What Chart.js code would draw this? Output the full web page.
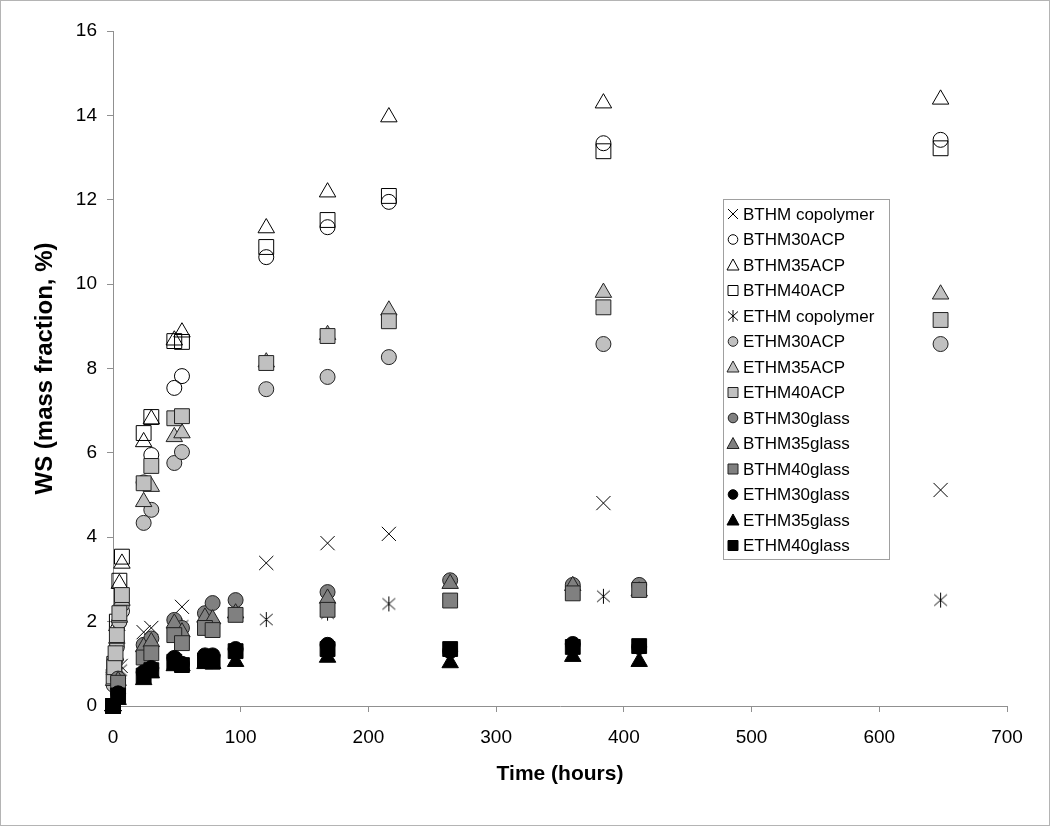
<!DOCTYPE html>
<html>
<head>
<meta charset="utf-8">
<script src="https://cdn.jsdelivr.net/npm/chart.js@4.4.0/dist/chart.umd.min.js"></script>
<style>
html, body { margin: 0; padding: 0; background: #fff; }
#wrap { width: 1050px; height: 826px; box-sizing: border-box; border: 1px solid #b4b4b4; }
canvas { display: block; }
</style>
</head>
<body>
<div id="wrap"><canvas id="chart1" width="1048" height="824"></canvas></div>
<script>
// temps (heures) par groupe de mesures
var hoursBthmCopo = [0, 6, 24, 30, 54, 120, 168, 216, 384, 648];
var hoursEthmCopo = [0, 6, 54, 120, 168, 216, 384, 648];
var hoursBthmAcp = [0, 1, 3, 5, 7, 24, 30, 48, 54, 120, 168, 216, 384, 648];
var hoursEthmAcp = [0, 0.5, 1, 2, 3, 5, 7, 24, 30, 48, 54, 120, 168, 216, 384, 648];
var hoursGlass = [0, 4, 24, 30, 48, 54, 72, 78, 96, 168, 264, 360, 412];

// WS (mass fraction, %)
var bthmCopolymer = [0, 0.95, 1.75, 1.85, 2.35, 3.39, 3.86, 4.08, 4.81, 5.12];
var ethmCopolymer = [0, 0.85, 1.9, 2.05, 2.2, 2.42, 2.6, 2.51];
var bthm30acp = [0, 0.7, 1.4, 2.0, 2.25, 5.3, 5.95, 7.54, 7.82, 10.64, 11.35, 11.95, 13.34, 13.42];
var bthm35acp = [0, 0.9, 1.9, 2.9, 3.38, 6.26, 6.8, 8.67, 8.86, 11.33, 12.18, 13.96, 14.29, 14.38];
var bthm40acp = [0, 1.0, 2.0, 2.97, 3.54, 6.47, 6.85, 8.65, 8.63, 10.88, 11.52, 12.09, 13.15, 13.22];
var ethm30acp = [0, 0.5, 0.8, 1.1, 1.5, 2.0, 2.4, 4.34, 4.65, 5.76, 6.02, 7.51, 7.8, 8.27, 8.58, 8.58];
var ethm35acp = [0, 0.6, 0.85, 1.2, 1.6, 2.1, 2.5, 4.84, 5.2, 6.38, 6.47, 8.15, 8.8, 9.38, 9.8, 9.76];
var ethm40acp = [0, 0.7, 0.92, 1.25, 1.68, 2.2, 2.63, 5.28, 5.69, 6.82, 6.87, 8.13, 8.77, 9.12, 9.45, 9.15];
var bthm30glass = [0, 0.65, 1.45, 1.6, 2.04, 1.85, 2.2, 2.44, 2.51, 2.7, 2.98, 2.87, 2.87];
var bthm35glass = [0, 0.6, 1.4, 1.52, 1.96, 1.75, 2.1, 2.06, 2.2, 2.55, 2.9, 2.85, 2.72];
var bthm40glass = [0, 0.55, 1.15, 1.25, 1.68, 1.49, 1.85, 1.8, 2.16, 2.28, 2.5, 2.67, 2.75];
var ethm30glass = [0, 0.3, 0.8, 0.9, 1.14, 1.0, 1.2, 1.2, 1.35, 1.45, 1.3, 1.47, 1.4];
var ethm35glass = [0, 0.15, 0.62, 0.78, 0.95, 0.95, 1.0, 1.0, 1.05, 1.15, 1.02, 1.17, 1.05];
var ethm40glass = [0, 0.25, 0.72, 0.85, 1.05, 0.97, 1.08, 1.05, 1.3, 1.35, 1.35, 1.4, 1.42];

var fontFam = "'Liberation Sans', Arial, sans-serif";

// etoile facon Excel (X + trait vertical)
function makeAsterisk(size){
    var c = document.createElement('canvas');
    c.width = size; c.height = size;
    var g = c.getContext('2d');
    var m = size / 2, r = size / 2 - 1;
    g.strokeStyle = '#000';
    g.lineWidth = 1;
    g.beginPath();
    g.moveTo(m, m - r); g.lineTo(m, m + r);
    g.moveTo(m - r * 0.85, m - r * 0.75); g.lineTo(m + r * 0.85, m + r * 0.75);
    g.moveTo(m - r * 0.85, m + r * 0.75); g.lineTo(m + r * 0.85, m - r * 0.75);
    g.stroke();
    return c;
}
var asterisk = makeAsterisk(17);

function pts(xs, ys){
    return xs.map(function(x, i){ return {x: x, y: ys[i]}; });
}

var series = [
    {label: 'BTHM copolymer', x: hoursBthmCopo, y: bthmCopolymer, style: 'crossRot', fill: '#000', line: '#000', r: 10},
    {label: 'BTHM30ACP', x: hoursBthmAcp, y: bthm30acp, style: 'circle', fill: 'rgba(0,0,0,0)', line: '#000', r: 7.5},
    {label: 'BTHM35ACP', x: hoursBthmAcp, y: bthm35acp, style: 'triangle', fill: 'rgba(0,0,0,0)', line: '#000', r: 9.5},
    {label: 'BTHM40ACP', x: hoursBthmAcp, y: bthm40acp, style: 'rect', fill: 'rgba(0,0,0,0)', line: '#000', r: 10.5},
    {label: 'ETHM copolymer', x: hoursEthmCopo, y: ethmCopolymer, style: asterisk, fill: '#000', line: '#000', r: 8},
    {label: 'ETHM30ACP', x: hoursEthmAcp, y: ethm30acp, style: 'circle', fill: '#c0c0c0', line: '#222', r: 7.5},
    {label: 'ETHM35ACP', x: hoursEthmAcp, y: ethm35acp, style: 'triangle', fill: '#c0c0c0', line: '#222', r: 9.5},
    {label: 'ETHM40ACP', x: hoursEthmAcp, y: ethm40acp, style: 'rect', fill: '#c0c0c0', line: '#222', r: 10.5},
    {label: 'BTHM30glass', x: hoursGlass, y: bthm30glass, style: 'circle', fill: '#808080', line: '#222', r: 7.5},
    {label: 'BTHM35glass', x: hoursGlass, y: bthm35glass, style: 'triangle', fill: '#808080', line: '#222', r: 9.5},
    {label: 'BTHM40glass', x: hoursGlass, y: bthm40glass, style: 'rect', fill: '#808080', line: '#222', r: 10.5},
    {label: 'ETHM30glass', x: hoursGlass, y: ethm30glass, style: 'circle', fill: '#000', line: '#000', r: 7.5},
    {label: 'ETHM35glass', x: hoursGlass, y: ethm35glass, style: 'triangle', fill: '#000', line: '#000', r: 9.5},
    {label: 'ETHM40glass', x: hoursGlass, y: ethm40glass, style: 'rect', fill: '#000', line: '#000', r: 10.5}
];

var datasets = series.map(function(s, i){
    return {
        label: s.label,
        data: pts(s.x, s.y),
        pointStyle: s.style,
        pointRadius: s.r,
        pointHoverRadius: s.r,
        pointBackgroundColor: s.fill,
        pointBorderColor: s.line,
        pointBorderWidth: 1,
        showLine: false,
        clip: false,
        order: series.length - i   // comme Excel: derniere serie au dessus
    };
});

// legende dessinee dans la zone du graphe
function legendMark(ctx, s, x, y){
    ctx.save();
    ctx.fillStyle = s.fill;
    ctx.strokeStyle = s.line;
    ctx.lineWidth = 1;
    ctx.beginPath();
    if (s.style === 'circle'){
        ctx.arc(x, y, 4.8, 0, Math.PI * 2);
        ctx.fill(); ctx.stroke();
    } else if (s.style === 'rect'){
        ctx.rect(x - 5, y - 5, 10, 10);
        ctx.fill(); ctx.stroke();
    } else if (s.style === 'triangle'){
        ctx.moveTo(x, y - 6); ctx.lineTo(x + 6, y + 5); ctx.lineTo(x - 6, y + 5); ctx.closePath();
        ctx.fill(); ctx.stroke();
    } else if (s.style === 'crossRot'){
        ctx.moveTo(x - 5, y - 5); ctx.lineTo(x + 5, y + 5);
        ctx.moveTo(x - 5, y + 5); ctx.lineTo(x + 5, y - 5);
        ctx.stroke();
    } else {
        ctx.moveTo(x, y - 6); ctx.lineTo(x, y + 6);
        ctx.moveTo(x - 5, y - 4.5); ctx.lineTo(x + 5, y + 4.5);
        ctx.moveTo(x - 5, y + 4.5); ctx.lineTo(x + 5, y - 4.5);
        ctx.stroke();
    }
    ctx.restore();
}

var legendBox = {
    id: 'legendBox',
    afterDraw: function(chart){
        var ctx = chart.ctx;
        var bx = 722, by = 198, bw = 166, bh = 360;
        ctx.save();
        ctx.fillStyle = '#fff';
        ctx.fillRect(bx, by, bw, bh);
        ctx.strokeStyle = '#a0a0a0';
        ctx.lineWidth = 1;
        ctx.strokeRect(bx + 0.5, by + 0.5, bw, bh);
        ctx.font = '17px ' + fontFam;
        ctx.fillStyle = '#000';
        ctx.textBaseline = 'middle';
        for (var i = 0; i < series.length; i++){
            var ry = 213 + i * 25.5;
            legendMark(ctx, series[i], 732, ry);
            ctx.fillStyle = '#000';
            ctx.fillText(series[i].label, 742, ry + 1);
        }
        ctx.restore();
    }
};

var ctx = document.getElementById('chart1').getContext('2d');
var myChart = new Chart(ctx, {
    type: 'scatter',
    data: { datasets: datasets },
    options: {
        responsive: false,
        animation: false,
        events: [],
        layout: { padding: { left: 22, right: 42, top: 30, bottom: 26 } },
        plugins: {
            legend: { display: false },
            tooltip: { enabled: false }
        },
        scales: {
            x: {
                type: 'linear',
                min: 0,
                max: 700,
                ticks: { stepSize: 100, color: '#000', font: { family: fontFam, size: 19 }, padding: 14 },
                grid: { drawOnChartArea: false, drawTicks: true, tickLength: 6, color: '#909090' },
                border: { color: '#909090', width: 1 },
                title: { display: true, text: 'Time (hours)', color: '#000', font: { family: fontFam, size: 21, weight: 'bold' }, padding: { top: 10, bottom: 12 } },
                afterFit: function(scale){ scale.height = 93; }
            },
            y: {
                min: 0,
                max: 16,
                ticks: { stepSize: 2, color: '#000', font: { family: fontFam, size: 19 }, padding: 10 },
                grid: { drawOnChartArea: false, drawTicks: true, tickLength: 6, color: '#909090' },
                border: { color: '#909090', width: 1 },
                title: { display: true, text: 'WS (mass fraction, %)', color: '#000', font: { family: fontFam, size: 24, weight: 'bold' }, padding: { top: 8, bottom: 6 } },
                afterFit: function(scale){ scale.width = 90; }
            }
        }
    },
    plugins: [legendBox]
});
</script>
</body>
</html>
